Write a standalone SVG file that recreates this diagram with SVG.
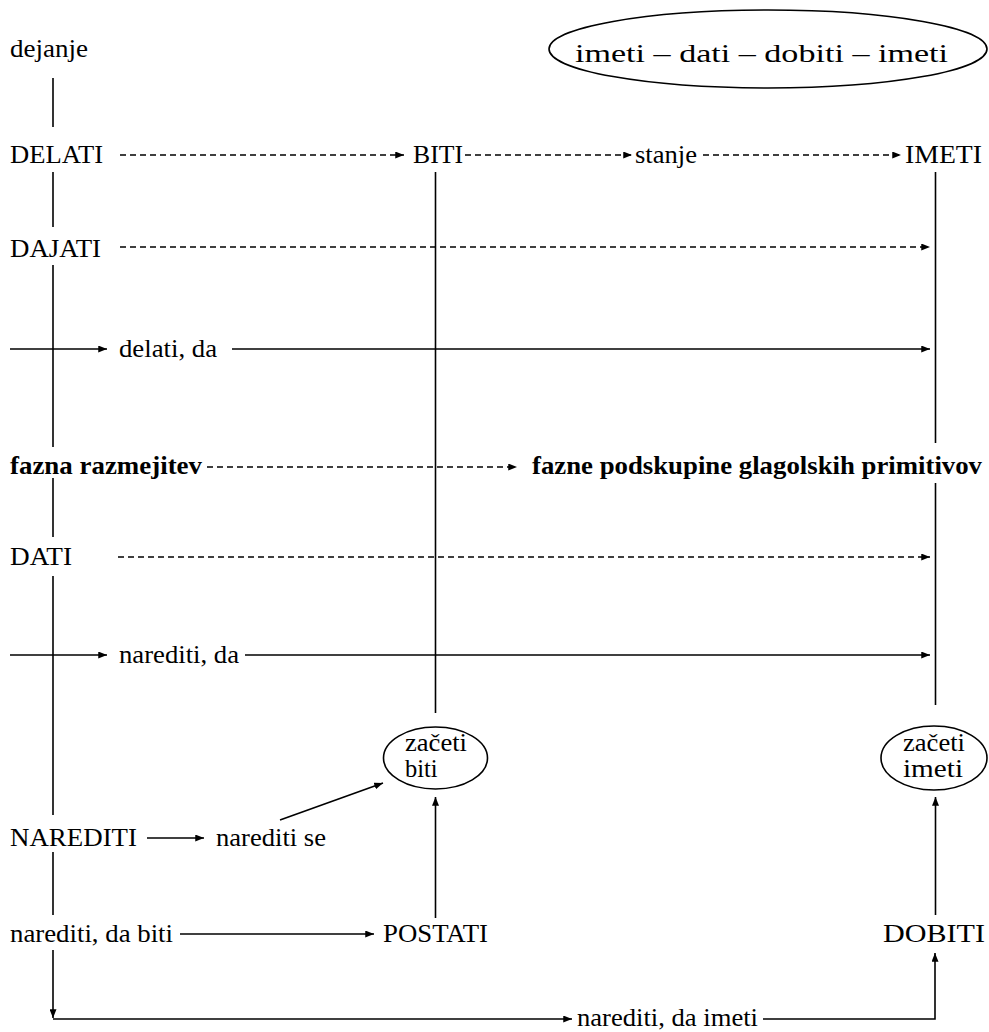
<svg xmlns="http://www.w3.org/2000/svg" width="989" height="1032" viewBox="0 0 989 1032">
  <style>
    text { font-family: 'Liberation Serif', 'DejaVu Serif', serif; font-size: 26px; fill: #000; }
    .b { font-weight: bold; }
    .sm { font-size: 24.5px; }
    .ln { stroke: #000; stroke-width: 1.6; fill: none; }
    .dash { stroke: #000; stroke-width: 1.6; fill: none; stroke-dasharray: 6 4; }
    .ell { stroke: #000; stroke-width: 1.6; fill: #fff; }
  </style>
  <defs>
    <marker id="ah" viewBox="0 0 10 8" refX="10" refY="4" markerWidth="9" markerHeight="7" markerUnits="userSpaceOnUse" orient="auto">
      <path d="M0,0 L10,4 L0,8 z" fill="#000"/>
    </marker>
  </defs>
  <rect width="989" height="1032" fill="#fff"/>

  <!-- connectors -->
  <g id="connectors">
    <!-- left spine (dejanje) -->
    <line class="ln" x1="53" y1="78" x2="53" y2="127"/>
    <line class="ln" x1="53" y1="172" x2="53" y2="227"/>
    <line class="ln" x1="53" y1="265" x2="53" y2="447"/>
    <line class="ln" x1="53" y1="478" x2="53" y2="537"/>
    <line class="ln" x1="53" y1="576" x2="53" y2="815"/>
    <line class="ln" x1="53" y1="852" x2="53" y2="915"/>
    <line class="ln" x1="53" y1="950" x2="53" y2="1018" marker-end="url(#ah)"/>
    <line class="ln" x1="53" y1="1019" x2="572" y2="1019" marker-end="url(#ah)"/>
    <polyline class="ln" points="763,1019 935,1019 935,953" marker-end="url(#ah)"/>

    <!-- BITI column -->
    <line class="ln" x1="435.5" y1="172" x2="435.5" y2="713"/>
    <line class="ln" x1="435.5" y1="918" x2="435.5" y2="797" marker-end="url(#ah)"/>
    <line class="ln" x1="280" y1="820" x2="383" y2="783" marker-end="url(#ah)"/>

    <!-- IMETI column -->
    <line class="ln" x1="935.5" y1="172" x2="935.5" y2="443"/>
    <line class="ln" x1="935.5" y1="483" x2="935.5" y2="705"/>
    <line class="ln" x1="935.5" y1="915" x2="935.5" y2="797" marker-end="url(#ah)"/>

    <!-- row: DELATI -> BITI -> stanje -> IMETI -->
    <line class="dash" x1="120" y1="155" x2="404" y2="155" marker-end="url(#ah)"/>
    <line class="dash" x1="465" y1="155" x2="632" y2="155" marker-end="url(#ah)"/>
    <line class="dash" x1="703" y1="155" x2="901" y2="155" marker-end="url(#ah)"/>

    <!-- row: DAJATI -->
    <line class="dash" x1="120" y1="247" x2="930" y2="247" marker-end="url(#ah)"/>

    <!-- row: delati, da -->
    <line class="ln" x1="10" y1="349" x2="107" y2="349" marker-end="url(#ah)"/>
    <line class="ln" x1="232" y1="349" x2="930" y2="349" marker-end="url(#ah)"/>

    <!-- row: fazna razmejitev -->
    <line class="dash" x1="207" y1="467" x2="517" y2="467" marker-end="url(#ah)"/>

    <!-- row: DATI -->
    <line class="dash" x1="118" y1="557" x2="930" y2="557" marker-end="url(#ah)"/>

    <!-- row: narediti, da -->
    <line class="ln" x1="10" y1="655" x2="107" y2="655" marker-end="url(#ah)"/>
    <line class="ln" x1="245" y1="655" x2="930" y2="655" marker-end="url(#ah)"/>

    <!-- row: NAREDITI -->
    <line class="ln" x1="147" y1="838" x2="204" y2="838" marker-end="url(#ah)"/>

    <!-- row: narediti, da biti -->
    <line class="ln" x1="180" y1="934" x2="374" y2="934" marker-end="url(#ah)"/>
  </g>

  <!-- nodes -->
  <g id="n-cycle">
    <ellipse class="ell" cx="768" cy="49" rx="219" ry="39"/>
    <text x="575" y="62" textLength="373" lengthAdjust="spacingAndGlyphs">imeti – dati – dobiti – imeti</text>
  </g>
  <g id="n-dejanje"><text x="10" y="57" textLength="78" lengthAdjust="spacingAndGlyphs">dejanje</text></g>
  <g id="n-delati"><text x="10" y="163" textLength="93" lengthAdjust="spacingAndGlyphs">DELATI</text></g>
  <g id="n-biti"><text x="413" y="163" textLength="50" lengthAdjust="spacingAndGlyphs">BITI</text></g>
  <g id="n-stanje"><text x="635" y="163" textLength="62" lengthAdjust="spacingAndGlyphs">stanje</text></g>
  <g id="n-imeti"><text x="905" y="163" textLength="77" lengthAdjust="spacingAndGlyphs">IMETI</text></g>
  <g id="n-dajati"><text x="10" y="257" textLength="91" lengthAdjust="spacingAndGlyphs">DAJATI</text></g>
  <g id="n-delati-da"><text x="119" y="357" textLength="98" lengthAdjust="spacingAndGlyphs">delati, da</text></g>
  <g id="n-fazna"><text class="b" x="10" y="474" textLength="192" lengthAdjust="spacingAndGlyphs">fazna razmejitev</text></g>
  <g id="n-podskupine"><text class="b" x="532" y="474" textLength="450" lengthAdjust="spacingAndGlyphs">fazne podskupine glagolskih primitivov</text></g>
  <g id="n-dati"><text x="10" y="565" textLength="62" lengthAdjust="spacingAndGlyphs">DATI</text></g>
  <g id="n-narediti-da"><text x="119" y="663" textLength="120" lengthAdjust="spacingAndGlyphs">narediti, da</text></g>
  <g id="n-zaceti-biti">
    <ellipse class="ell" cx="435.5" cy="758" rx="52" ry="31"/>
    <text class="sm" x="405" y="751" textLength="62" lengthAdjust="spacingAndGlyphs">začeti</text>
    <text class="sm" x="405" y="777">biti</text>
  </g>
  <g id="n-zaceti-imeti">
    <ellipse class="ell" cx="934" cy="758" rx="53" ry="32"/>
    <text class="sm" x="903" y="751" textLength="62" lengthAdjust="spacingAndGlyphs">začeti</text>
    <text class="sm" x="903" y="777" textLength="60" lengthAdjust="spacingAndGlyphs">imeti</text>
  </g>
  <g id="n-narediti"><text x="10" y="846" textLength="127" lengthAdjust="spacingAndGlyphs">NAREDITI</text></g>
  <g id="n-narediti-se"><text x="216" y="846" textLength="110" lengthAdjust="spacingAndGlyphs">narediti se</text></g>
  <g id="n-narediti-da-biti"><text x="10" y="942" textLength="163" lengthAdjust="spacingAndGlyphs">narediti, da biti</text></g>
  <g id="n-postati"><text x="383" y="942" textLength="105" lengthAdjust="spacingAndGlyphs">POSTATI</text></g>
  <g id="n-dobiti"><text x="883" y="942" textLength="102" lengthAdjust="spacingAndGlyphs">DOBITI</text></g>
  <g id="n-narediti-da-imeti"><text x="577" y="1026" textLength="181" lengthAdjust="spacingAndGlyphs">narediti, da imeti</text></g>
</svg>
